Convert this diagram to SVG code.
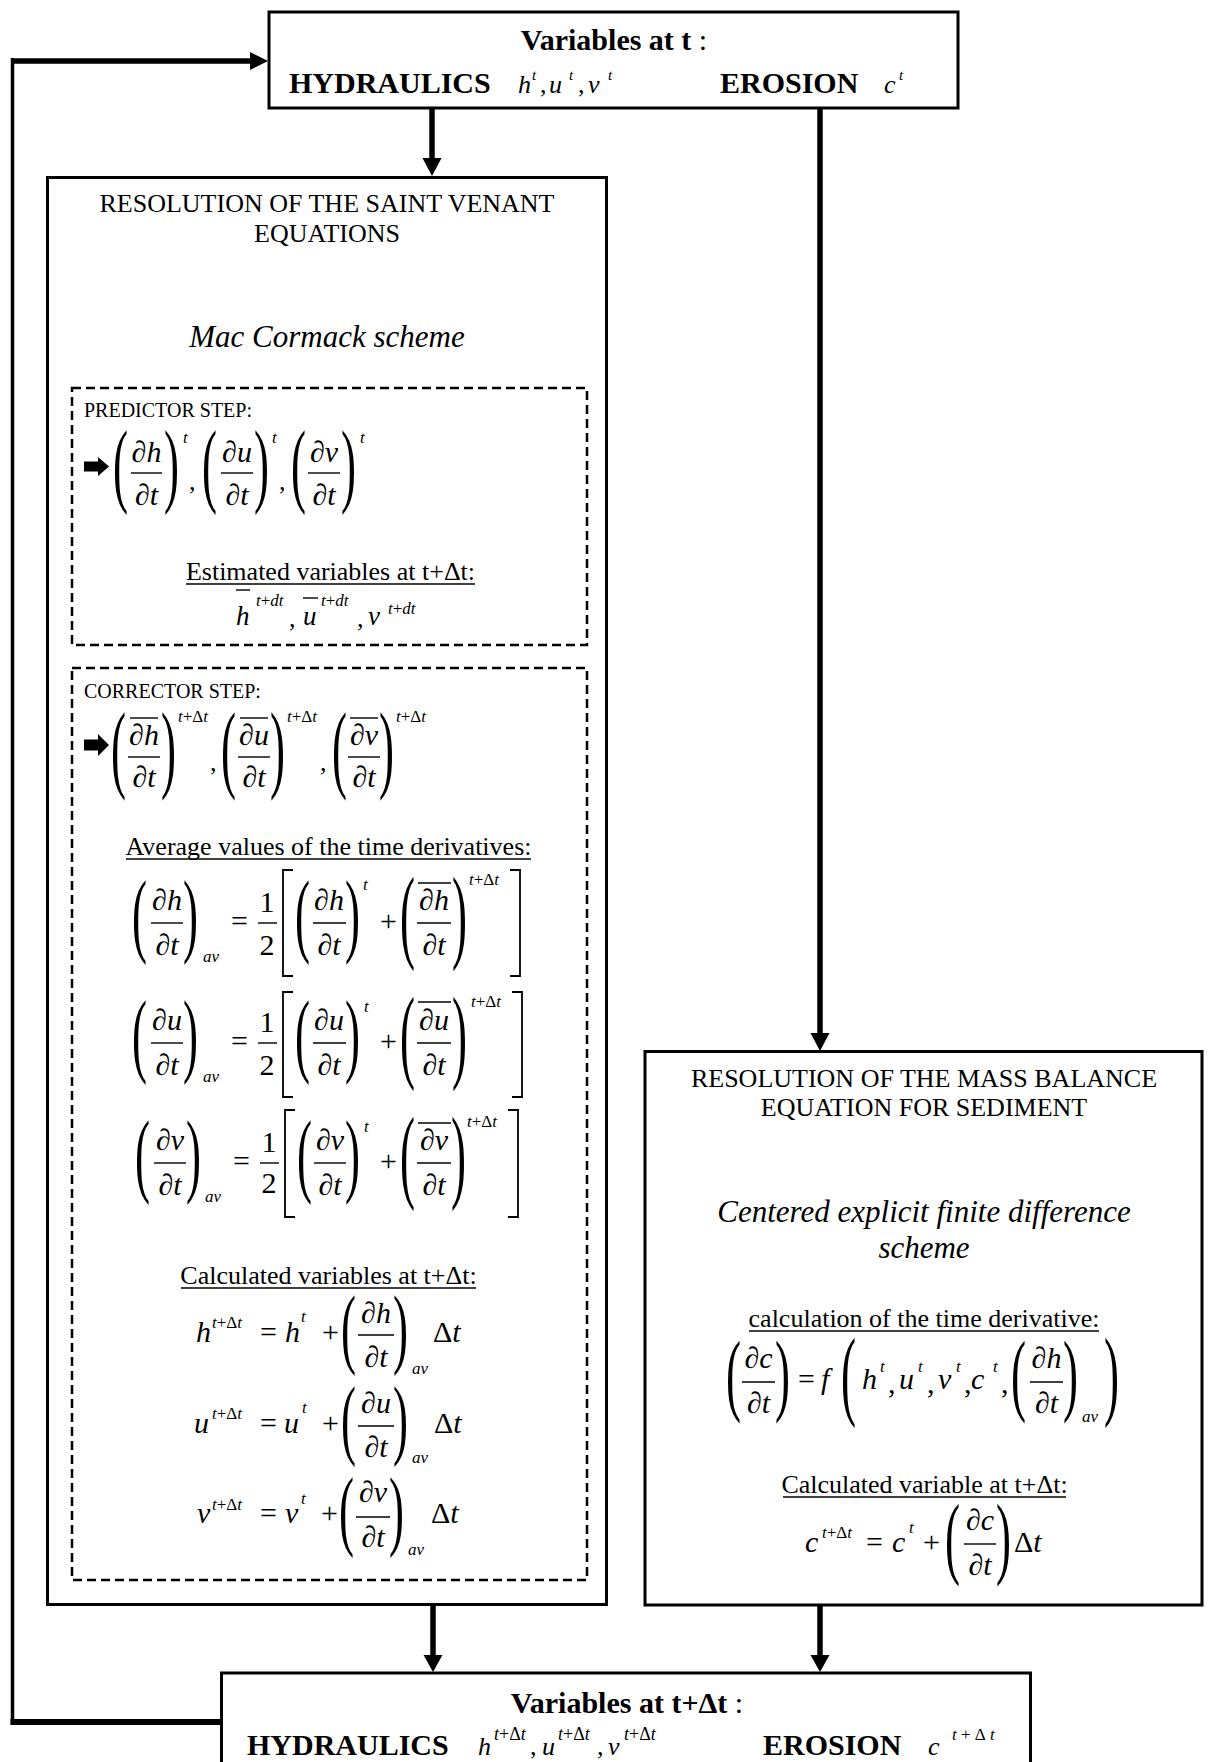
<svg xmlns="http://www.w3.org/2000/svg" width="1208" height="1762" viewBox="0 0 1208 1762">
<style>
.box{fill:#fff;stroke:#000;stroke-width:3}
.dash{fill:none;stroke:#000;stroke-width:2.5;stroke-dasharray:9 5}
.conn{stroke:#000;stroke-width:5.5;fill:none}
.f{font-family:"Liberation Serif","Times New Roman",serif;fill:#000}
.h26{font-size:26px}
.h20{font-size:20px}
.b30{font-size:30px;font-weight:bold}
.i30{font-size:31px;font-style:italic}
.m{font-size:30px}
.m26{font-size:26px}
.i{font-style:italic}
.n{font-style:normal}
.sp{font-size:17px;font-style:italic}
.pa{font-size:45px}
.mid{text-anchor:middle}
.ln{stroke:#000;stroke-width:1.4}
.ul{stroke:#000;stroke-width:1.6}
.br{fill:none;stroke:#000;stroke-width:1.8}
</style>

<g id="connectors">
  <line class="conn" x1="221" y1="1722" x2="10.5" y2="1722" style="stroke-width:6"/>
  <line class="conn" x1="12.5" y1="1725" x2="12.5" y2="58" style="stroke-width:3.5"/>
  <line class="conn" x1="11" y1="61" x2="252" y2="61"/>
  <polygon points="250,52 268,61 250,70"/>
  <line class="conn" x1="432" y1="108" x2="432" y2="160"/>
  <polygon points="422.5,158 441.5,158 432,176"/>
  <line class="conn" x1="820" y1="108" x2="820" y2="1035"/>
  <polygon points="810.5,1033 829.5,1033 820,1051"/>
  <line class="conn" x1="433" y1="1605" x2="433" y2="1657"/>
  <polygon points="423.5,1655 442.5,1655 433,1672"/>
  <line class="conn" x1="820" y1="1605" x2="820" y2="1657"/>
  <polygon points="810.5,1655 829.5,1655 820,1672"/>
</g>

<g id="node-top">
  <rect class="box" x="269" y="12" width="689" height="96"/>
  <text class="f b30 mid" x="614" y="50">Variables at t<tspan font-weight="normal"> :</tspan></text>
  <text class="f b30" x="289" y="93">HYDRAULICS</text>
  <text class="f m26 i" y="93"><tspan x="518">h</tspan><tspan x="532" y="80" font-size="15">t</tspan><tspan x="540" y="93" class="n">,</tspan><tspan x="549">u</tspan><tspan x="569" y="80" font-size="15">t</tspan><tspan x="578" y="93" class="n">,</tspan><tspan x="588">v</tspan><tspan x="608" y="80" font-size="15">t</tspan></text>
  <text class="f b30" x="720" y="93">EROSION</text>
  <text class="f m26 i" y="93"><tspan x="884">c</tspan><tspan x="899" y="80" font-size="15">t</tspan></text>
</g>

<g id="node-saint-venant">
  <rect class="box" x="47.5" y="177.5" width="559" height="1427"/>
  <text class="f h26 mid" x="327" y="212">RESOLUTION OF THE SAINT VENANT</text>
  <text class="f h26 mid" x="327" y="242">EQUATIONS</text>
  <text class="f i30 mid" x="327" y="347">Mac Cormack scheme</text>
</g>

<g id="node-predictor">
  <rect class="dash" x="72" y="388" width="515" height="257"/>
  <text class="f h20" x="84" y="417">PREDICTOR STEP:</text>
  <polygon points="84,461.5 98,461.5 98,457 109,466.5 98,476 98,471.5 84,471.5"/>
  <text class="f pa" transform="translate(113,472.5) scale(1,2.05)" y="11.2">(</text>
  <text class="f m mid" x="146.5" y="462">∂<tspan class="i">h</tspan></text>
  <line class="ln" x1="131" y1="473" x2="162" y2="473"/>
  <text class="f m mid" x="146.5" y="505">∂<tspan class="i">t</tspan></text>
  <text class="f pa" transform="translate(164,472.5) scale(1,2.05)" y="11.2">)</text>
  <text class="f sp" x="183" y="443">t</text>
  <text class="f m26" x="189" y="490">,</text>
  <text class="f pa" transform="translate(202,472.5) scale(1,2.05)" y="11.2">(</text>
  <text class="f m mid" x="237" y="462">∂<tspan class="i">u</tspan></text>
  <line class="ln" x1="221" y1="473" x2="253" y2="473"/>
  <text class="f m mid" x="237" y="505">∂<tspan class="i">t</tspan></text>
  <text class="f pa" transform="translate(254,472.5) scale(1,2.05)" y="11.2">)</text>
  <text class="f sp" x="272" y="443">t</text>
  <text class="f m26" x="279" y="490">,</text>
  <text class="f pa" transform="translate(291,472.5) scale(1,2.05)" y="11.2">(</text>
  <text class="f m mid" x="324" y="462">∂<tspan class="i">v</tspan></text>
  <line class="ln" x1="308" y1="473" x2="340" y2="473"/>
  <text class="f m mid" x="324" y="505">∂<tspan class="i">t</tspan></text>
  <text class="f pa" transform="translate(341,472.5) scale(1,2.05)" y="11.2">)</text>
  <text class="f sp" x="360" y="443">t</text>
  <text class="f h26 mid" x="330.5" y="580">Estimated variables at t+Δt:</text>
  <line class="ul" x1="186" y1="584" x2="475" y2="584"/>
  <text class="f i" font-size="27" x="236" y="625">h</text>
  <line class="ln" x1="236" y1="590" x2="250" y2="590"/>
  <text class="f sp" x="256" y="606">t<tspan class="n">+</tspan>dt</text>
  <text class="f m26" x="289" y="627">,</text>
  <text class="f i" font-size="27" x="303" y="625">u</text>
  <line class="ln" x1="303" y1="598" x2="318" y2="598"/>
  <text class="f sp" x="321" y="606">t<tspan class="n">+</tspan>dt</text>
  <text class="f m26" x="357" y="627">,</text>
  <text class="f i" font-size="27" x="368" y="625">v</text>
  <text class="f sp" x="388" y="614">t<tspan class="n">+</tspan>dt</text>
</g>

<g id="node-corrector">
  <rect class="dash" x="72" y="668" width="515" height="912"/>
  <text class="f h20" x="84" y="698">CORRECTOR STEP:</text>
  <polygon points="84,739.5 98,739.5 98,734 109,745 98,756 98,750.5 84,750.5"/>
  <text class="f pa" transform="translate(111,756) scale(1,2.14)" y="11.2">(</text>
  <line class="ln" x1="130" y1="718" x2="158" y2="718"/>
  <text class="f m mid" x="144" y="745">∂<tspan class="i">h</tspan></text>
  <line class="ln" x1="128" y1="757" x2="160" y2="757"/>
  <text class="f m mid" x="144" y="787">∂<tspan class="i">t</tspan></text>
  <text class="f pa" transform="translate(161,756) scale(1,2.14)" y="11.2">)</text>
  <text class="f sp" x="178" y="722">t<tspan class="n">+Δ</tspan>t</text>
  <text class="f m26" x="210" y="771">,</text>
  <text class="f pa" transform="translate(221,756) scale(1,2.14)" y="11.2">(</text>
  <line class="ln" x1="240" y1="718" x2="268" y2="718"/>
  <text class="f m mid" x="254" y="745">∂<tspan class="i">u</tspan></text>
  <line class="ln" x1="238" y1="757" x2="270" y2="757"/>
  <text class="f m mid" x="254" y="787">∂<tspan class="i">t</tspan></text>
  <text class="f pa" transform="translate(270,756) scale(1,2.14)" y="11.2">)</text>
  <text class="f sp" x="287" y="722">t<tspan class="n">+Δ</tspan>t</text>
  <text class="f m26" x="320" y="771">,</text>
  <text class="f pa" transform="translate(332,756) scale(1,2.14)" y="11.2">(</text>
  <line class="ln" x1="350" y1="718" x2="378" y2="718"/>
  <text class="f m mid" x="364" y="745">∂<tspan class="i">v</tspan></text>
  <line class="ln" x1="348" y1="757" x2="380" y2="757"/>
  <text class="f m mid" x="364" y="787">∂<tspan class="i">t</tspan></text>
  <text class="f pa" transform="translate(379,756) scale(1,2.14)" y="11.2">)</text>
  <text class="f sp" x="396" y="722">t<tspan class="n">+Δ</tspan>t</text>

  <text class="f h26 mid" x="328.5" y="855">Average values of the time derivatives:</text>
  <line class="ul" x1="126" y1="859" x2="531" y2="859"/>

  <g transform="translate(0,923)">
    <text class="f pa" transform="translate(132,-0.5) scale(1,2.05)" y="11.2">(</text>
    <text class="f m mid" x="167" y="-13">∂<tspan class="i">h</tspan></text>
    <line class="ln" x1="151" y1="0" x2="183" y2="0"/>
    <text class="f m mid" x="167" y="32">∂<tspan class="i">t</tspan></text>
    <text class="f pa" transform="translate(183,-0.5) scale(1,2.05)" y="11.2">)</text>
    <text class="f sp" x="203" y="39">av</text>
    <text class="f m" x="231" y="8">=</text>
    <text class="f m mid" x="267" y="-11">1</text>
    <line class="ln" x1="258" y1="0" x2="277" y2="0"/>
    <text class="f m mid" x="267" y="32">2</text>
    <polyline class="br" points="293,-53 283,-53 283,53 293,53"/>
    <text class="f pa" transform="translate(295,-0.5) scale(1,2.05)" y="11.2">(</text>
    <text class="f m mid" x="329" y="-13">∂<tspan class="i">h</tspan></text>
    <line class="ln" x1="313" y1="0" x2="346" y2="0"/>
    <text class="f m mid" x="329" y="32">∂<tspan class="i">t</tspan></text>
    <text class="f pa" transform="translate(345,-0.5) scale(1,2.05)" y="11.2">)</text>
    <text class="f sp" x="363" y="-33">t</text>
    <text class="f m" x="380" y="8">+</text>
    <text class="f pa" transform="translate(400,0) scale(1,2.32)" y="11.2">(</text>
    <line class="ln" x1="418" y1="-40" x2="451" y2="-40"/>
    <text class="f m mid" x="434" y="-13">∂<tspan class="i">h</tspan></text>
    <line class="ln" x1="417" y1="0" x2="451" y2="0"/>
    <text class="f m mid" x="434" y="32">∂<tspan class="i">t</tspan></text>
    <text class="f pa" transform="translate(452,0) scale(1,2.32)" y="11.2">)</text>
    <text class="f sp" x="469" y="-38">t<tspan class="n">+Δ</tspan>t</text>
    <polyline class="br" points="510,-53 520,-53 520,53 510,53"/>
  </g>

  <g transform="translate(0,1043)">
    <text class="f pa" transform="translate(132,-0.5) scale(1,2.05)" y="11.2">(</text>
    <text class="f m mid" x="167" y="-13">∂<tspan class="i">u</tspan></text>
    <line class="ln" x1="151" y1="0" x2="183" y2="0"/>
    <text class="f m mid" x="167" y="32">∂<tspan class="i">t</tspan></text>
    <text class="f pa" transform="translate(183,-0.5) scale(1,2.05)" y="11.2">)</text>
    <text class="f sp" x="203" y="39">av</text>
    <text class="f m" x="231" y="8">=</text>
    <text class="f m mid" x="267" y="-11">1</text>
    <line class="ln" x1="258" y1="0" x2="277" y2="0"/>
    <text class="f m mid" x="267" y="32">2</text>
    <polyline class="br" points="293,-51 283,-51 283,54 293,54"/>
    <text class="f pa" transform="translate(295,-0.5) scale(1,2.05)" y="11.2">(</text>
    <text class="f m mid" x="329" y="-13">∂<tspan class="i">u</tspan></text>
    <line class="ln" x1="313" y1="0" x2="346" y2="0"/>
    <text class="f m mid" x="329" y="32">∂<tspan class="i">t</tspan></text>
    <text class="f pa" transform="translate(345,-0.5) scale(1,2.05)" y="11.2">)</text>
    <text class="f sp" x="364" y="-31">t</text>
    <text class="f m" x="380" y="8">+</text>
    <text class="f pa" transform="translate(400,0) scale(1,2.32)" y="11.2">(</text>
    <line class="ln" x1="418" y1="-41" x2="451" y2="-41"/>
    <text class="f m mid" x="434" y="-13">∂<tspan class="i">u</tspan></text>
    <line class="ln" x1="417" y1="0" x2="451" y2="0"/>
    <text class="f m mid" x="434" y="32">∂<tspan class="i">t</tspan></text>
    <text class="f pa" transform="translate(452,0) scale(1,2.32)" y="11.2">)</text>
    <text class="f sp" x="471" y="-36">t<tspan class="n">+Δ</tspan>t</text>
    <polyline class="br" points="512,-51 522,-51 522,54 512,54"/>
  </g>

  <g transform="translate(2,1163)">
    <text class="f pa" transform="translate(133,-0.5) scale(1,2.05)" y="11.2">(</text>
    <text class="f m mid" x="168" y="-13">∂<tspan class="i">v</tspan></text>
    <line class="ln" x1="152" y1="0" x2="184" y2="0"/>
    <text class="f m mid" x="168" y="32">∂<tspan class="i">t</tspan></text>
    <text class="f pa" transform="translate(184,-0.5) scale(1,2.05)" y="11.2">)</text>
    <text class="f sp" x="203" y="39">av</text>
    <text class="f m" x="231" y="8">=</text>
    <text class="f m mid" x="267" y="-11">1</text>
    <line class="ln" x1="258" y1="0" x2="277" y2="0"/>
    <text class="f m mid" x="267" y="30">2</text>
    <polyline class="br" points="293,-53 283,-53 283,54 293,54"/>
    <text class="f pa" transform="translate(295,-0.5) scale(1,2.05)" y="11.2">(</text>
    <text class="f m mid" x="328" y="-13">∂<tspan class="i">v</tspan></text>
    <line class="ln" x1="312" y1="0" x2="344" y2="0"/>
    <text class="f m mid" x="328" y="32">∂<tspan class="i">t</tspan></text>
    <text class="f pa" transform="translate(343,-0.5) scale(1,2.05)" y="11.2">)</text>
    <text class="f sp" x="362" y="-31">t</text>
    <text class="f m" x="378" y="8">+</text>
    <text class="f pa" transform="translate(398,0) scale(1,2.32)" y="11.2">(</text>
    <line class="ln" x1="416" y1="-40" x2="449" y2="-40"/>
    <text class="f m mid" x="432" y="-13">∂<tspan class="i">v</tspan></text>
    <line class="ln" x1="415" y1="0" x2="449" y2="0"/>
    <text class="f m mid" x="432" y="32">∂<tspan class="i">t</tspan></text>
    <text class="f pa" transform="translate(449,0) scale(1,2.32)" y="11.2">)</text>
    <text class="f sp" x="465" y="-36">t<tspan class="n">+Δ</tspan>t</text>
    <polyline class="br" points="506,-53 516,-53 516,54 506,54"/>
  </g>

  <text class="f h26 mid" x="328.5" y="1284">Calculated variables at t+Δt:</text>
  <line class="ul" x1="181" y1="1288" x2="476" y2="1288"/>

  <g transform="translate(0,1335)">
    <text class="f m i" x="196" y="7">h</text>
    <text class="f sp" x="212" y="-7">t<tspan class="n">+Δ</tspan>t</text>
    <text class="f m" x="260" y="7">=</text>
    <text class="f m i" x="285" y="7">h</text>
    <text class="f sp" x="301" y="-13">t</text>
    <text class="f m" x="322" y="7">+</text>
    <text class="f pa" transform="translate(341,0) scale(1,1.98)" y="11.2">(</text>
    <text class="f m mid" x="376" y="-12">∂<tspan class="i">h</tspan></text>
    <line class="ln" x1="358" y1="0" x2="394" y2="0"/>
    <text class="f m mid" x="376" y="32">∂<tspan class="i">t</tspan></text>
    <text class="f pa" transform="translate(393,0) scale(1,1.98)" y="11.2">)</text>
    <text class="f sp" x="412" y="39">av</text>
    <text class="f m" x="433" y="7">Δ<tspan class="i">t</tspan></text>
  </g>
  <g transform="translate(0,1426)">
    <text class="f m i" x="194" y="7">u</text>
    <text class="f sp" x="212" y="-7">t<tspan class="n">+Δ</tspan>t</text>
    <text class="f m" x="260" y="7">=</text>
    <text class="f m i" x="284" y="7">u</text>
    <text class="f sp" x="302" y="-13">t</text>
    <text class="f m" x="322" y="7">+</text>
    <text class="f pa" transform="translate(341,0) scale(1,1.98)" y="11.2">(</text>
    <text class="f m mid" x="376" y="-13">∂<tspan class="i">u</tspan></text>
    <line class="ln" x1="358" y1="0" x2="394" y2="0"/>
    <text class="f m mid" x="376" y="31">∂<tspan class="i">t</tspan></text>
    <text class="f pa" transform="translate(393,0) scale(1,1.98)" y="11.2">)</text>
    <text class="f sp" x="412" y="37">av</text>
    <text class="f m" x="434" y="7">Δ<tspan class="i">t</tspan></text>
  </g>
  <g transform="translate(0,1517)">
    <text class="f m i" x="197" y="6">v</text>
    <text class="f sp" x="212" y="-7">t<tspan class="n">+Δ</tspan>t</text>
    <text class="f m" x="260" y="6">=</text>
    <text class="f m i" x="285" y="6">v</text>
    <text class="f sp" x="301" y="-13">t</text>
    <text class="f m" x="321" y="6">+</text>
    <text class="f pa" transform="translate(339,0) scale(1,1.98)" y="11.2">(</text>
    <text class="f m mid" x="373" y="-15">∂<tspan class="i">v</tspan></text>
    <line class="ln" x1="356" y1="0" x2="390" y2="0"/>
    <text class="f m mid" x="373" y="30">∂<tspan class="i">t</tspan></text>
    <text class="f pa" transform="translate(389,0) scale(1,1.98)" y="11.2">)</text>
    <text class="f sp" x="408" y="38">av</text>
    <text class="f m" x="431" y="6">Δ<tspan class="i">t</tspan></text>
  </g>
</g>

<g id="node-mass-balance">
  <rect class="box" x="645" y="1051.5" width="557" height="553.5"/>
  <text class="f h26 mid" x="924" y="1087">RESOLUTION OF THE MASS BALANCE</text>
  <text class="f h26 mid" x="924" y="1116">EQUATION FOR SEDIMENT</text>
  <text class="f i30 mid" x="924" y="1222">Centered explicit finite difference</text>
  <text class="f i30 mid" x="924" y="1258">scheme</text>
  <text class="f h26 mid" x="924" y="1327">calculation of the time derivative:</text>
  <line class="ul" x1="749" y1="1331" x2="1099" y2="1331"/>
  <text class="f pa" transform="translate(726,1381.5) scale(1,2.0)" y="11.2">(</text>
  <text class="f m mid" x="758.5" y="1368">∂<tspan class="i">c</tspan></text>
  <line class="ln" x1="742" y1="1382" x2="775" y2="1382"/>
  <text class="f m mid" x="758.5" y="1413">∂<tspan class="i">t</tspan></text>
  <text class="f pa" transform="translate(775,1381.5) scale(1,2.0)" y="11.2">)</text>
  <text class="f m" x="798" y="1389">=</text>
  <text class="f m i" x="821" y="1389">f</text>
  <text class="f pa" transform="translate(841,1382.5) scale(1,2.21)" y="11.2">(</text>
  <text class="f m i" y="1389"><tspan x="862">h</tspan><tspan x="880" y="1372" font-size="17">t</tspan><tspan x="888" y="1393" class="n">,</tspan><tspan x="899" y="1389">u</tspan><tspan x="918" y="1372" font-size="17">t</tspan><tspan x="927" y="1393" class="n">,</tspan><tspan x="938" y="1389">v</tspan><tspan x="956" y="1372" font-size="17">t</tspan><tspan x="964" y="1393" class="n">,</tspan><tspan x="971" y="1389">c</tspan><tspan x="993" y="1372" font-size="17">t</tspan><tspan x="1001" y="1393" class="n">,</tspan></text>
  <text class="f pa" transform="translate(1011,1381.5) scale(1,2.0)" y="11.2">(</text>
  <text class="f m mid" x="1046.5" y="1368">∂<tspan class="i">h</tspan></text>
  <line class="ln" x1="1030" y1="1382" x2="1063" y2="1382"/>
  <text class="f m mid" x="1046.5" y="1413">∂<tspan class="i">t</tspan></text>
  <text class="f pa" transform="translate(1063,1381.5) scale(1,2.0)" y="11.2">)</text>
  <text class="f sp" x="1082" y="1422">av</text>
  <text class="f pa" transform="translate(1104,1382.5) scale(1,2.21)" y="11.2">)</text>
  <text class="f h26 mid" x="924.5" y="1493">Calculated variable at t+Δt:</text>
  <line class="ul" x1="783" y1="1497" x2="1066" y2="1497"/>
  <text class="f m i" x="805" y="1552">c</text>
  <text class="f sp" x="822" y="1538">t<tspan class="n">+Δ</tspan>t</text>
  <text class="f m" x="866" y="1552">=</text>
  <text class="f m i" x="892" y="1552">c</text>
  <text class="f sp" x="909" y="1533">t</text>
  <text class="f m" x="923" y="1552">+</text>
  <text class="f pa" transform="translate(945,1544) scale(1,2.03)" y="11.2">(</text>
  <text class="f m mid" x="980" y="1530">∂<tspan class="i">c</tspan></text>
  <line class="ln" x1="964" y1="1544" x2="996" y2="1544"/>
  <text class="f m mid" x="980" y="1575">∂<tspan class="i">t</tspan></text>
  <text class="f pa" transform="translate(996,1544) scale(1,2.03)" y="11.2">)</text>
  <text class="f m" x="1014" y="1552">Δ<tspan class="i">t</tspan></text>
</g>

<g id="node-bottom">
  <rect class="box" x="221.5" y="1673" width="809" height="200"/>
  <text class="f b30 mid" x="627" y="1713">Variables at t+Δt<tspan font-weight="normal"> :</tspan></text>
  <text class="f b30" x="247" y="1755">HYDRAULICS</text>
  <text class="f m26 i" y="1755"><tspan x="478">h</tspan><tspan x="494" y="1740" font-size="18">t<tspan class="n">+Δ</tspan>t</tspan><tspan x="530" y="1755" class="n">,</tspan><tspan x="542">u</tspan><tspan x="558" y="1740" font-size="18">t<tspan class="n">+Δ</tspan>t</tspan><tspan x="597" y="1755" class="n">,</tspan><tspan x="608">v</tspan><tspan x="624" y="1740" font-size="18">t<tspan class="n">+Δ</tspan>t</tspan></text>
  <text class="f b30" x="763" y="1755">EROSION</text>
  <text class="f m26 i" y="1755"><tspan x="928">c</tspan><tspan x="952" y="1740" font-size="17">t <tspan class="n">+ Δ</tspan> t</tspan></text>
</g>
</svg>
